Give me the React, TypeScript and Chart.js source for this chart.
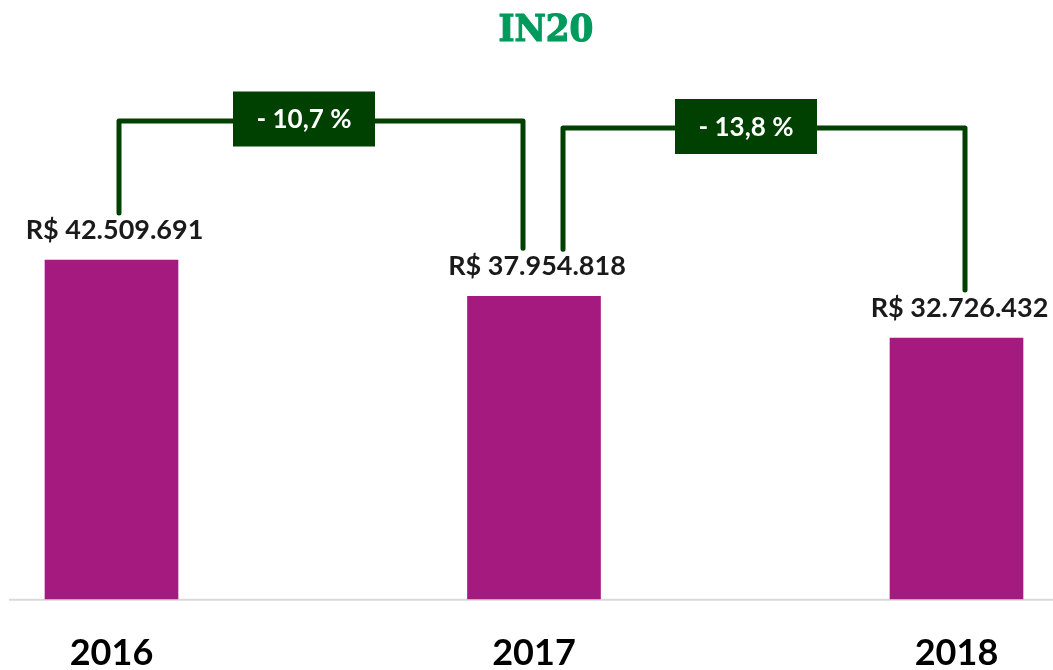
import { useEffect, useRef } from 'react';
import { Chart, registerables } from 'chart.js';

Chart.register(...registerables);

// ---- data ----
const categories = ['2016', '2017', '2018'];
const values = [42509691, 37954818, 32726432];
const changeLabels = ['- 10,7 %', '- 13,8 %'];
const titleText = 'IN20';
const Y_MAX = 67600000;

// ---- layout / style constants ----
const W = 1053;
const H = 708;
const BAR_COLOR = '#A51A7F';
const DARK_GREEN = '#004000';
const TITLE_GREEN = '#009A5C';
const BRACKETS = [
  { from: 0, to: 1, lineY: 121, leftDx: 7.5, rightDx: -11, boxDx: -17, boxDy: -2 },
  { from: 1, to: 2, lineY: 128, leftDx: 29, rightDx: 8.5, boxDx: -18, boxDy: -1.5 },
];

const fmt = (n: number) => n.toString().replace(/\B(?=(\d{3})+(?!\d))/g, '.');

const annotPlugin = {
  id: 'annot',
  beforeDatasetsDraw(chart: any) {
    const ctx = chart.ctx;
    const y = chart.scales.y.getPixelForValue(0);
    ctx.save();
    ctx.strokeStyle = '#d9d9d9';
    ctx.lineWidth = 2;
    ctx.beginPath();
    ctx.moveTo(9, y + 1);
    ctx.lineTo(chart.width, y + 1);
    ctx.stroke();
    ctx.restore();
  },
  afterDatasetsDraw(chart: any) {
    const ctx = chart.ctx;
    const meta = chart.getDatasetMeta(0);
    ctx.save();
    // title
    ctx.font = 'bold 38px "DejaVu Serif Condensed", "DejaVu Serif", serif';
    ctx.fillStyle = TITLE_GREEN;
    ctx.textAlign = 'center';
    ctx.textBaseline = 'middle';
    ctx.lineWidth = 1.2;
    ctx.strokeStyle = TITLE_GREEN;
    ctx.fillText(titleText, 546, 31);
    ctx.strokeText(titleText, 546, 31);

    // value labels
    ctx.font = 'bold 27px Lato, sans-serif';
    ctx.fillStyle = '#1a1a1a';
    values.forEach((v, i) => {
      const bar = meta.data[i];
      ctx.fillText('R$ ' + fmt(v), bar.x + 3, bar.y - 30);
    });

    // brackets
    BRACKETS.forEach((b, i) => {
      const a = meta.data[b.from];
      const c = meta.data[b.to];
      const lx = a.x + b.leftDx;
      const rx = c.x + b.rightDx;
      ctx.strokeStyle = DARK_GREEN;
      ctx.lineWidth = 5;
      ctx.lineJoin = 'round';
      ctx.lineCap = 'round';
      ctx.beginPath();
      ctx.moveTo(lx, a.y - 47);
      ctx.lineTo(lx, b.lineY);
      ctx.lineTo(rx, b.lineY);
      ctx.lineTo(rx, c.y - 48);
      ctx.stroke();
      const bw = 142;
      const bh = 55;
      const cx = (lx + rx) / 2 + b.boxDx;
      const cy = b.lineY + b.boxDy;
      ctx.fillStyle = DARK_GREEN;
      ctx.fillRect(cx - bw / 2, cy - bh / 2, bw, bh);
      ctx.fillStyle = '#ffffff';
      ctx.font = 'bold 26px Lato, sans-serif';
      ctx.fillText(changeLabels[i], cx, cy + 1);
    });
    ctx.restore();
  },
};

export default function App() {
  const ref = useRef<HTMLCanvasElement | null>(null);
  useEffect(() => {
    let chart: Chart | null = null;
    let cancelled = false;
    const make = () => {
      if (cancelled || !ref.current) return;
      chart = new Chart(ref.current, {
        type: 'bar',
        data: {
          labels: categories,
          datasets: [
            {
              data: values,
              backgroundColor: BAR_COLOR,
              barThickness: 133,
              clip: false as any,
            },
          ],
        },
        options: {
          responsive: false,
          animation: false,
          layout: { padding: { left: 111.5, right: 96.5, top: 60, bottom: 0 } },
          plugins: {
            legend: { display: false },
            title: { display: false },
            tooltip: { enabled: false },
          },
          scales: {
            x: {
              offset: false,
              grid: { display: false, drawTicks: false },
              border: { display: false },
              ticks: {
                font: { family: 'Lato', weight: 'bold', size: 36 },
                color: '#000000',
                padding: 33,
                maxRotation: 0,
                autoSkip: false,
              },
            },
            y: { display: false, min: 0, max: Y_MAX },
          },
        },
        plugins: [annotPlugin],
      });
    };
    Promise.all([
      document.fonts.load('bold 25px Lato'),
      document.fonts.load('bold 38px "DejaVu Serif"'),
    ])
      .catch(() => null)
      .then(make);
    return () => {
      cancelled = true;
      if (chart) chart.destroy();
    };
  }, []);
  return (
    <div
      style={{
        position: 'fixed',
        left: 0,
        top: 0,
        width: W,
        height: 670,
        overflow: 'hidden',
        background: '#fff',
      }}
    >
      <canvas ref={ref} width={W} height={H} style={{ display: 'block' }} />
    </div>
  );
}
